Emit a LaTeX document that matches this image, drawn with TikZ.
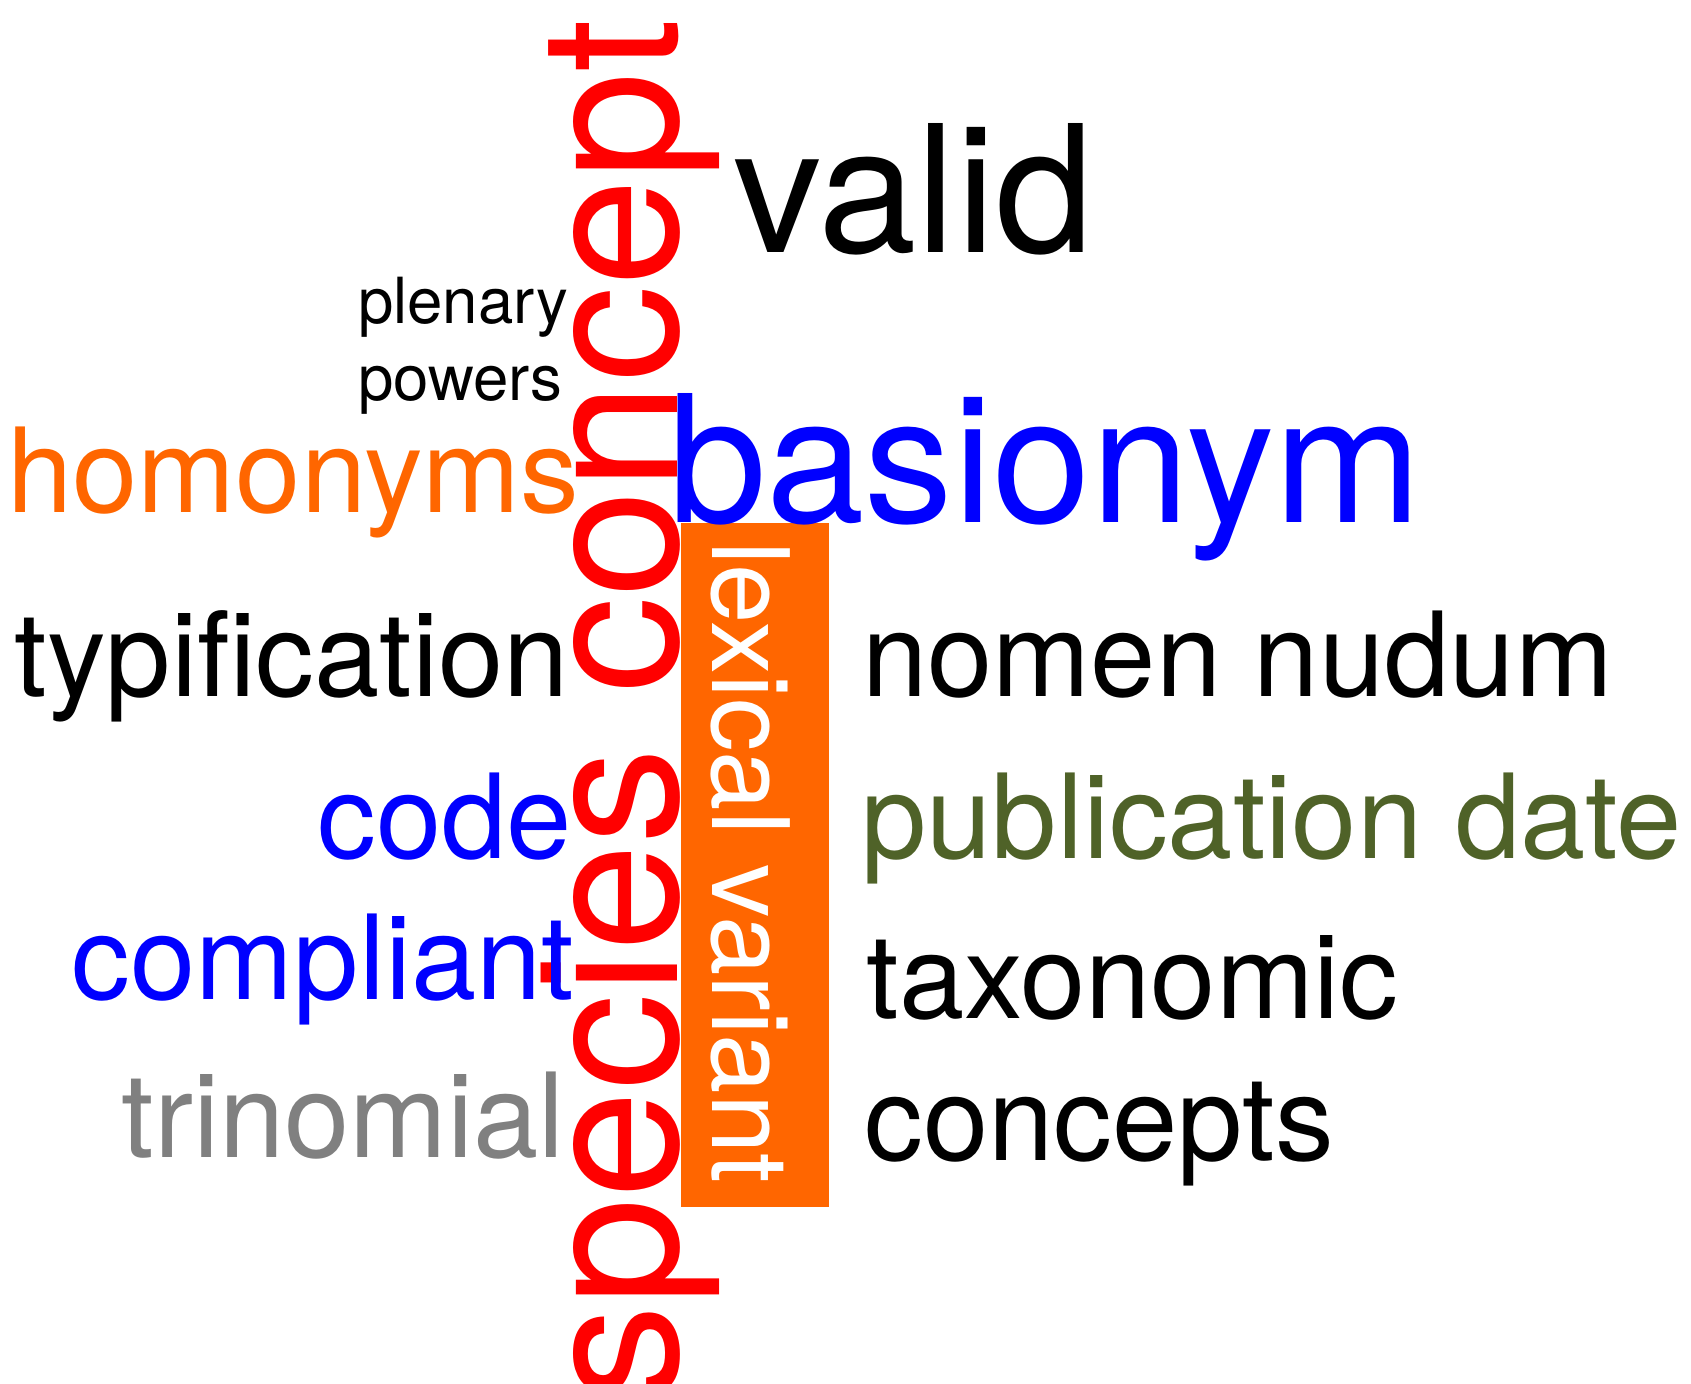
\documentclass[tikz,border=0pt]{standalone}
\usepackage{fontspec}
\setmainfont{TeX Gyre Heros}
\definecolor{wcred}{HTML}{FF0000}
\definecolor{wcblue}{HTML}{0000FF}
\definecolor{wcorange}{HTML}{FF6600}
\definecolor{wcgray}{HTML}{808080}
\definecolor{wcolive}{HTML}{4F6228}
\tikzset{
  word/.style={inner sep=0pt, outer sep=0pt, anchor=base west},
  huge word/.style={word, font=\fontsize{96.5}{116}\selectfont},
  big word/.style={word, font=\fontsize{88.5}{106}\selectfont},
  mid word/.style={word, font=\fontsize{58.7}{70}\selectfont},
  small word/.style={word, font=\fontsize{31.8}{38}\selectfont},
}
\begin{document}
\begin{tikzpicture}[x=0.5pt, y=-0.5pt]
  \useasboundingbox (0,0) rectangle (1691,1383);
  \node[fill=wcorange, inner sep=0pt, minimum width=74pt, minimum height=342pt] (lexbox) at (755,865) {};
  \draw
    (677,19) node[huge word, wcred, rotate=90, anchor=base east] (species) {species concept}
    (712,541) node[word, white, font=\fontsize{53.4}{64}\selectfont, rotate=-90] (lexical) {lexical variant}
    (733.6,252) node[big word] (valid) {valid}
    (668,522) node[big word, wcblue] (basionym) {basionym}
    (358,323) node[small word] (plenary) {plenary}
    (358,400) node[small word] (powers) {powers}
    (7.4,512) node[mid word, wcorange] (homonyms) {homonyms}
    (14.4,696) node[mid word] (typification) {typification}
    (317.5,858) node[mid word, wcblue] (code) {code}
    (71.5,999) node[mid word, wcblue] (compliant) {compliant}
    (121.4,1157) node[mid word, wcgray] (trinomial) {trinomial}
    (862.4,696) node[mid word] (nomen) {nomen nudum}
    (861.2,858) node[mid word, wcolive] (publication) {publication date}
    (866.4,1018) node[mid word] (taxonomic) {taxonomic}
    (864.5,1160) node[mid word] (concepts) {concepts};
\end{tikzpicture}
\end{document}
